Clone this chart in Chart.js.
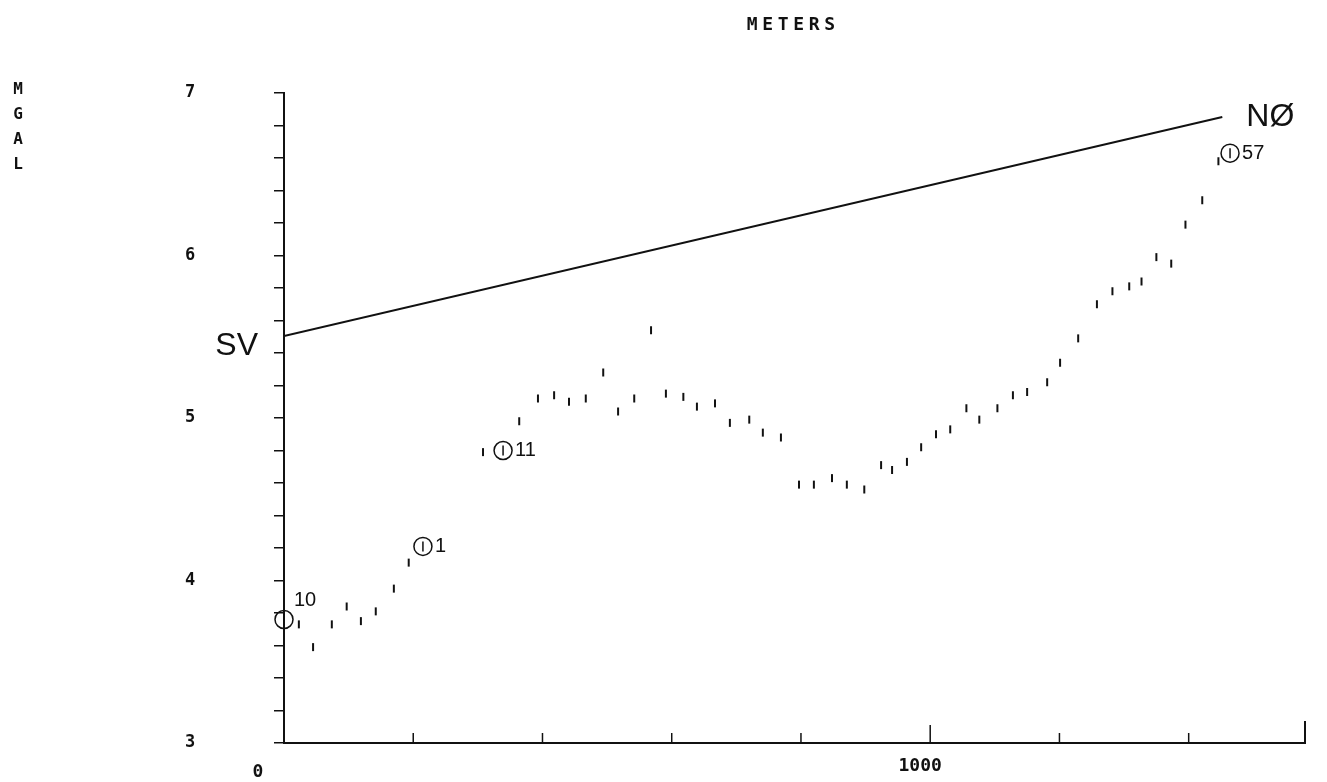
<!DOCTYPE html>
<html>
<head>
<meta charset="utf-8">
<script src="https://cdn.jsdelivr.net/npm/chart.js@4/dist/chart.umd.min.js"></script>
<style>
    html, body { margin: 0; padding: 0; background: #fff; overflow: hidden; }
    canvas { display: block; }
</style>
</head>
<body>
<canvas id="gravityChart" width="1327" height="782"></canvas>
<script>
/* ================================
   DATA
================================ */
const surveyDistance = [23, 45, 74, 97, 119, 142, 170, 193, 308, 364, 393, 418, 441, 467, 494, 517,
    542, 568, 591, 618, 639, 667, 690, 720, 741, 769, 797, 820, 848, 871, 898, 924, 941, 964, 986,
    1009, 1031, 1056, 1076, 1104, 1128, 1150, 1181, 1201, 1229, 1258, 1282, 1308, 1327, 1350, 1373,
    1395, 1421, 1446];
const surveyMgal = [3.73, 3.59, 3.73, 3.84, 3.75, 3.81, 3.95, 4.11, 4.79, 4.98, 5.12, 5.14, 5.10, 5.12, 5.28, 5.04,
    5.12, 5.54, 5.15, 5.13, 5.07, 5.09, 4.97, 4.99, 4.91, 4.88, 4.59, 4.59, 4.63, 4.59, 4.56, 4.71, 4.68, 4.73, 4.82,
    4.90, 4.93, 5.06, 4.99, 5.06, 5.14, 5.16, 5.22, 5.34, 5.49, 5.70, 5.78, 5.81, 5.84, 5.99, 5.95,
    6.19, 6.34, 6.58];

const stationDistance = [0, 215, 339, 1464];
const stationMgal = [3.76, 4.21, 4.80, 6.63];
const stationLabels = ['10', '1', '11', '57'];

const trendDistance = [0, 1452];
const trendMgal = [5.505, 6.852];
const trendLabels = ['SV', 'N\u00D8'];

const xTickValues = [0, 200, 400, 600, 800, 1000, 1200, 1400];
const xTickLabels = [0, 1000];
const yTickLabels = [3, 4, 5, 6, 7];

const INK = '#111';
const PLOTTER_FONT = 'bold 18px "DejaVu Sans Mono"';

/* ================================
   HELPERS
================================ */
const toPoints = (xs, ys) => xs.map((x, i) => ({ x, y: ys[i] }));
const isLabelled = (list, v) => list.some(t => Math.abs(t - v) < 1e-6);

// plotter lettering has wide spacing, so draw char by char
function spacedText(ctx, text, cx, cy, pitch) {
    const start = cx - (text.length - 1) * pitch / 2;
    [...text].forEach((ch, i) => ctx.fillText(ch, start + i * pitch, cy));
}

/* ================================
   DECORATION PLUGIN
================================ */
const plotDecor = {
    id: 'plotDecor',
    afterDraw(chart) {
        const { ctx, scales: { x, y } } = chart;
        ctx.save();
        ctx.fillStyle = INK;
        ctx.strokeStyle = INK;

        // axis titles
        ctx.font = PLOTTER_FONT;
        ctx.textAlign = 'center';
        ctx.textBaseline = 'middle';
        spacedText(ctx, 'METERS', 791, 25, 15.5);
        ctx.font = 'bold 16px "DejaVu Sans Mono"';
        [...'MGAL'].forEach((ch, i) => ctx.fillText(ch, 18, 90 + i * 25));

        // x tick labels sit a little left of their ticks on the plotter
        ctx.font = PLOTTER_FONT;
        xTickLabels.forEach(v => {
            const px = x.getPixelForValue(v);
            ctx.fillText(String(v), v === 0 ? px - 26 : px - 10, y.bottom + (v === 0 ? 29 : 23));
        });

        // x axis ticks point up into the plot
        ctx.lineWidth = 1.5;
        x.ticks.forEach(t => {
            if (t.value <= x.min || t.value >= x.max) return;
            const px = x.getPixelForValue(t.value);
            const len = t.value === 1000 ? 18 : 10;
            ctx.beginPath();
            ctx.moveTo(px, y.bottom);
            ctx.lineTo(px, y.bottom - len);
            ctx.stroke();
        });
        const endX = x.getPixelForValue(x.max);
        ctx.lineWidth = 2;
        ctx.beginPath();
        ctx.moveTo(endX, y.bottom);
        ctx.lineTo(endX, y.bottom - 22);
        ctx.stroke();

        // SV / NØ ends of the trend line
        ctx.font = '32px "Liberation Sans"';
        ctx.textBaseline = 'middle';
        ctx.textAlign = 'right';
        ctx.fillText(trendLabels[0], x.getPixelForValue(trendDistance[0]) - 26,
            y.getPixelForValue(trendMgal[0]) + 10);
        ctx.textAlign = 'left';
        ctx.fillText(trendLabels[1], x.getPixelForValue(trendDistance[1]) + 24,
            y.getPixelForValue(trendMgal[1]));

        // station numbers beside the circles
        ctx.font = '20px "Liberation Sans"';
        stationLabels.forEach((lab, i) => {
            const px = x.getPixelForValue(stationDistance[i]);
            const py = y.getPixelForValue(stationMgal[i]);
            if (i === 0) ctx.fillText(lab, px + 10, py - 19);
            else ctx.fillText(lab, px + 12, py);
        });
        ctx.restore();
    }
};

/* ================================
   CHART
================================ */
new Chart(document.getElementById('gravityChart'), {
    type: 'scatter',
    data: {
        datasets: [
            {
                label: 'Trend',
                data: toPoints(trendDistance, trendMgal),
                showLine: true,
                borderColor: INK,
                borderWidth: 2,
                pointRadius: 0
            },
            {
                label: 'Gravity',
                data: toPoints(surveyDistance, surveyMgal),
                pointStyle: 'line',
                rotation: 90,
                radius: 4,
                borderColor: INK,
                borderWidth: 2
            },
            {
                label: 'Stations',
                data: toPoints(stationDistance, stationMgal),
                pointStyle: 'circle',
                radius: 9,
                borderColor: INK,
                backgroundColor: 'rgba(0,0,0,0)',
                borderWidth: 1.5,
                clip: false
            },
            {
                label: 'Station marks',
                data: toPoints(stationDistance, stationMgal),
                pointStyle: 'line',
                rotation: 90,
                radius: 5,
                borderColor: INK,
                borderWidth: 1.5,
                clip: false
            }
        ]
    },
    options: {
        responsive: false,
        animation: false,
        devicePixelRatio: 1,
        layout: { padding: { left: 185, top: 93, right: 22, bottom: 0 } },
        plugins: { legend: { display: false }, tooltip: { enabled: false } },
        scales: {
            x: {
                type: 'linear',
                bounds: 'data',
                min: 0,
                max: 1580,
                afterFit: s => { s.height = 39; },
                afterBuildTicks: s => { s.ticks = xTickValues.map(v => ({ value: v })); },
                border: { color: INK, width: 2 },
                grid: { drawOnChartArea: false, drawTicks: false },
                ticks: {
                    autoSkip: false,
                    maxRotation: 0,
                    display: false
                }
            },
            y: {
                type: 'linear',
                min: 3,
                max: 7,
                afterFit: s => { s.width = 99; },
                border: { color: INK, width: 2 },
                grid: { drawOnChartArea: false, color: INK, lineWidth: 1.5, tickLength: 10 },
                ticks: {
                    stepSize: 0.2,
                    autoSkip: false,
                    padding: 0,
                    crossAlign: 'far',
                    color: INK,
                    font: { family: 'DejaVu Sans Mono', size: 17, weight: 'bold' },
                    callback: v => isLabelled(yTickLabels, v) ? String(Math.round(v)) : ''
                }
            }
        }
    },
    plugins: [plotDecor]
});
</script>
</body>
</html>
